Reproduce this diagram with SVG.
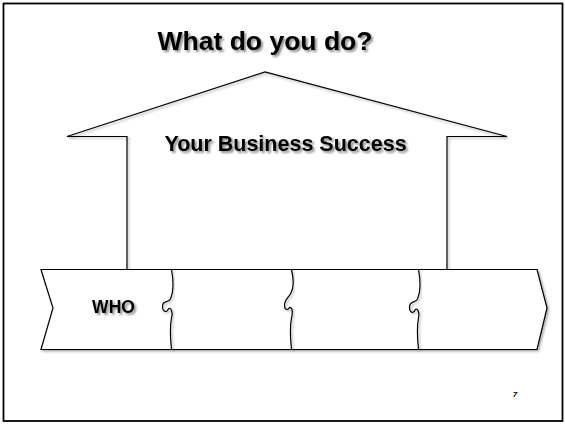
<svg xmlns="http://www.w3.org/2000/svg" width="565" height="424" viewBox="0 0 565 424">
  <style>
    .ln { fill: none; stroke: #000; stroke-width: 1.2; stroke-linejoin: miter; filter: url(#lshadow); }
    .shape { fill: #fff; stroke: #000; stroke-width: 1.2; filter: url(#lshadow); }
    .t { font-family: "Liberation Sans", Arial, sans-serif; font-weight: bold; fill: #000; text-anchor: middle; filter: url(#tshadow); }
  </style>
  <defs>
    <filter id="lshadow" x="-10%" y="-10%" width="130%" height="130%">
      <feDropShadow dx="1.5" dy="1.5" stdDeviation="0.8" flood-color="#000" flood-opacity="0.35"/>
    </filter>
    <filter id="tshadow" x="-10%" y="-20%" width="130%" height="160%">
      <feDropShadow dx="2" dy="2" stdDeviation="1.2" flood-color="#000" flood-opacity="0.45"/>
    </filter>
  </defs>
  <rect width="565" height="424" fill="#fff"/>
  <rect x="3.5" y="3.5" width="559" height="417.5" fill="none" stroke="#000" stroke-width="1.8"/>

  <g id="title">
    <text class="t" x="265" y="50" font-size="26.5">What do you do?</text>
  </g>

  <g id="house">
    <polyline class="ln" points="127,269 127,136.5 67,136.5 265,72 507,136.5 447,136.5 447,269"/>
    <text class="t" x="285.5" y="151" font-size="21.5">Your Business Success</text>
  </g>

  <g id="belt">
    <polygon class="shape" points="41,269.5 537,269.5 547,308 537,349.5 41,349.5 53,308"/>
  </g>

  <g id="segment-who">
    <text class="t" x="113.5" y="312.5" font-size="17.5">WHO</text>
  </g>

  <g id="connectors">
    <path class="ln" d="M171.5,269.5 C173.5,280 173.5,292 170.5,299 C168.5,303 162.5,300 162.5,306 C162.5,312 166.5,313 168,309.5 C170.5,306 173.5,312 171.5,318 C169.5,328 170.5,340 171.5,349.5"/>
    <path class="ln" d="M291.5,269.5 C293.5,278 294,287 291,293 C289,297 284.5,300 284.5,305 C284.5,311 288.5,310 289.5,307.5 C292.5,307 293,312 291.5,318 C289.5,328 290.5,340 291.5,349.5"/>
    <path class="ln" d="M418.5,269.5 C420.5,280 420.5,292 417.5,299 C415.5,303 409.5,301 409.5,307 C409.5,313 413.5,314 415,310 C417.5,307 420,313 418.5,318 C416.5,328 417.5,340 418.5,349.5"/>
  </g>

  <g id="page-number">
    <text x="515" y="397" font-size="8" font-family="Liberation Sans, Arial, sans-serif" font-weight="bold" font-style="italic" text-anchor="middle">7</text>
  </g>
</svg>
